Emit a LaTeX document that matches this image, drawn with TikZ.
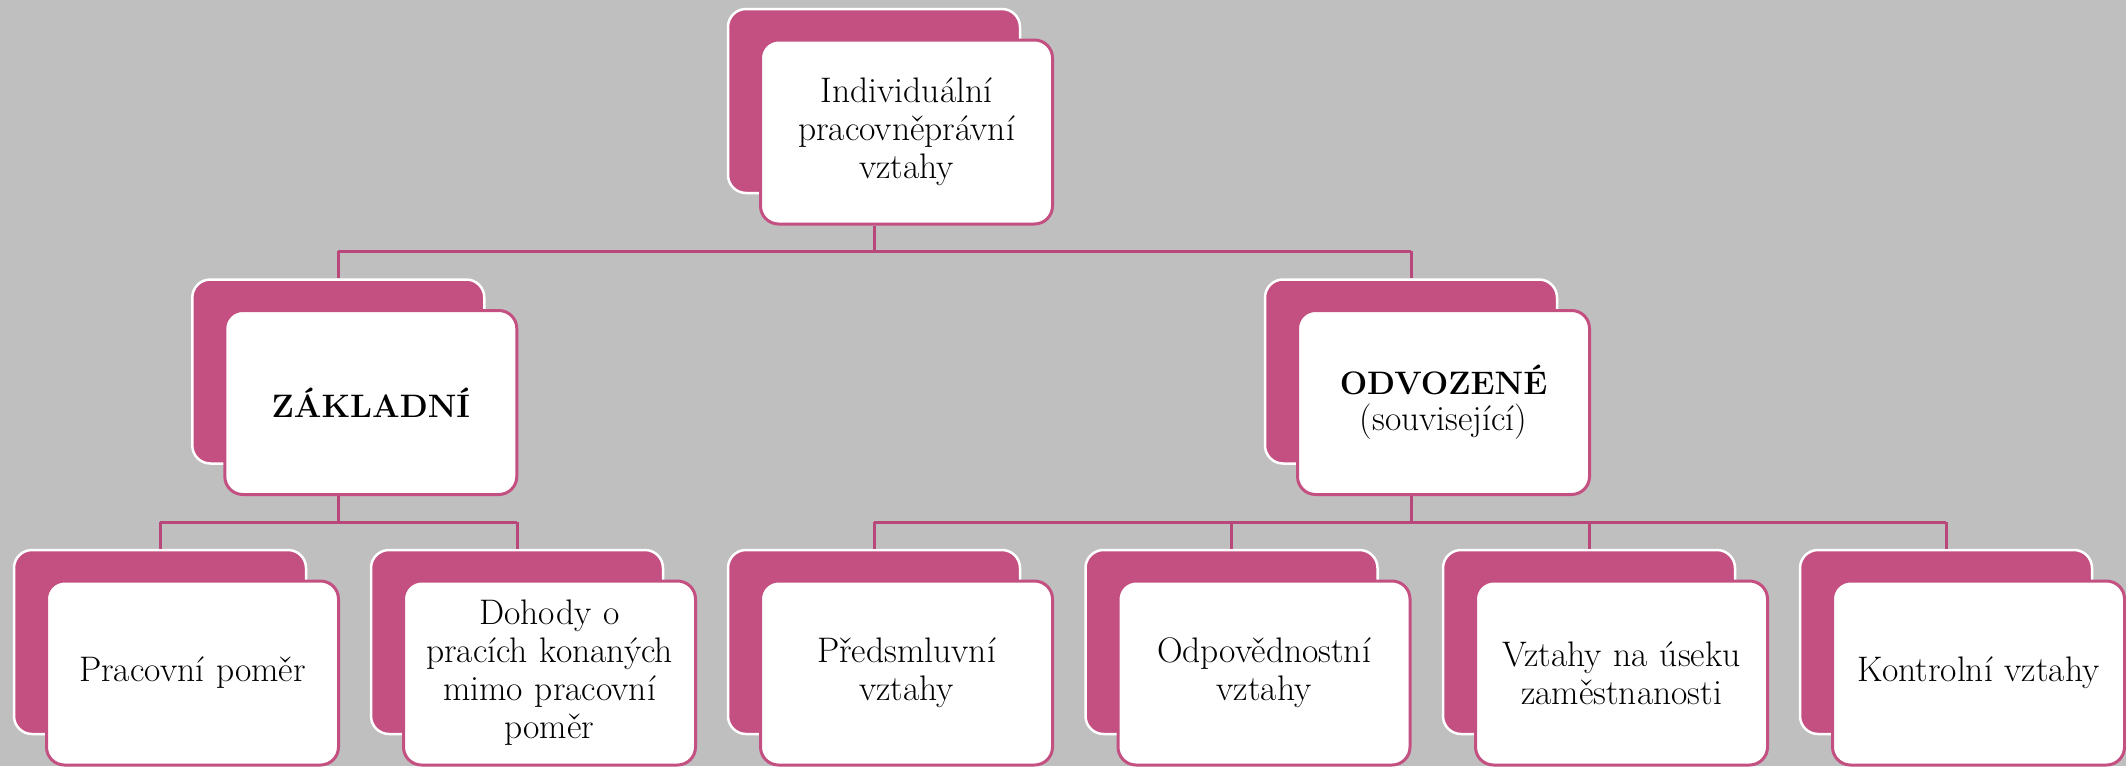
\documentclass[tikz,border=0pt]{standalone}
\definecolor{bggray}{RGB}{191,191,191}
\definecolor{magback}{RGB}{196,80,130}
\definecolor{magline}{RGB}{184,72,122}
\tikzset{
  backbox/.style={draw=white, line width=2.5pt, fill=magback, rounded corners=18pt,
    minimum width=292pt, minimum height=184pt, inner sep=0pt},
  frontbox/.style={draw=magback, line width=3pt, fill=white, rounded corners=18pt,
    minimum width=292pt, minimum height=184pt, inner sep=4pt, align=center,
    font=\fontsize{35.5}{38}\selectfont, text width=284pt},
  conn/.style={draw=magline, line width=3pt}
}
\begin{document}
\begin{tikzpicture}[x=1pt,y=-1pt]
\fill[bggray] (0,0) rectangle (2126,766);
\useasboundingbox (0,0) rectangle (2126,766);
% top
\node[backbox] (b0) at (874,101) {};
\node[frontbox] (f0) at (906.5,132) {Individuální\\pracovněprávní\\vztahy};
% level 2
\node[backbox] (b1) at (338.3,371.5) {};
\node[frontbox] (f1) at (370.8,402.5) {{\fontsize{32.5}{37}\selectfont\bfseries ZÁKLADNÍ}};
\node[backbox] (b2) at (1411,371.5) {};
\node[frontbox] (f2) at (1443.5,402.5) {{\fontsize{32.5}{34}\selectfont\bfseries ODVOZENÉ}\\[-2pt](související)};
% level 3
\node[backbox] (b3) at (160,642) {};
\node[frontbox] (f3) at (192.5,673) {Pracovní poměr};
\node[backbox] (b4) at (517,642) {};
\node[frontbox] (f4) at (549.5,673) {Dohody o\\pracích konaných\\mimo pracovní\\poměr};
\node[backbox] (b5) at (874,642) {};
\node[frontbox] (f5) at (906.5,673) {Předsmluvní\\vztahy};
\node[backbox] (b6) at (1231.5,642) {};
\node[frontbox] (f6) at (1264,673) {Odpovědnostní\\vztahy};
\node[backbox] (b7) at (1589,642) {};
\node[frontbox] (f7) at (1621.5,673) {Vztahy na úseku\\zaměstnanosti};
\node[backbox] (b8) at (1946,642) {};
\node[frontbox] (f8) at (1978.5,673) {Kontrolní vztahy};
% buses
\coordinate (bus1) at (0,251);
\coordinate (bus2) at (0,522);
% connectors level 1
\draw[conn] (b0 |- f0.south) -- (b0 |- bus1);
\draw[conn] (b1 |- bus1) -- (b2 |- bus1);
\draw[conn] (b1 |- bus1) -- (b1.north);
\draw[conn] (b2 |- bus1) -- (b2.north);
% connectors level 2 left
\draw[conn] (b1 |- f1.south) -- (b1 |- bus2);
\draw[conn] (b3 |- bus2) -- (b4 |- bus2);
\draw[conn] (b3 |- bus2) -- (b3.north);
\draw[conn] (b4 |- bus2) -- (b4.north);
% connectors level 2 right
\draw[conn] (b2 |- f2.south) -- (b2 |- bus2);
\draw[conn] (b5 |- bus2) -- (b8 |- bus2);
\draw[conn] (b5 |- bus2) -- (b5.north);
\draw[conn] (b6 |- bus2) -- (b6.north);
\draw[conn] (b7 |- bus2) -- (b7.north);
\draw[conn] (b8 |- bus2) -- (b8.north);
\end{tikzpicture}
\end{document}
